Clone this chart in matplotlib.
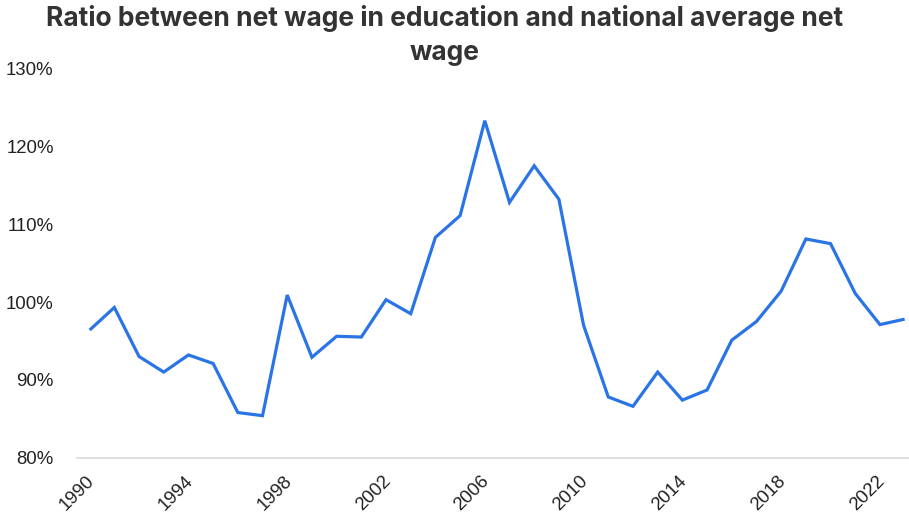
import matplotlib
matplotlib.use("Agg")
import matplotlib.pyplot as plt
import matplotlib.transforms as mtransforms
from matplotlib.ticker import FuncFormatter

years = list(range(1990, 2024))
ratio = [96.4, 99.3, 93.0, 91.0, 93.2, 92.1, 85.8, 85.4, 100.9, 92.9,
         95.6, 95.5, 100.3, 98.5, 108.3, 111.1, 123.3, 112.8, 117.5, 113.2,
         97.0, 87.8, 86.6, 91.0, 87.4, 88.7, 95.1, 97.5, 101.4, 108.1,
         107.5, 101.1, 97.1, 97.8]
tick_years = list(range(1990, 2023, 4))
y_ticks = [80, 90, 100, 110, 120, 130]
title = "Ratio between net wage in education and national average net\nwage"

W, H = 909, 516
fig = plt.figure(figsize=(W / 100, H / 100), dpi=100)
left_px, right_px = 77.3, 917.0
bottom_px, top_px = 457.7, 68.5
ax = fig.add_axes([left_px / W, (H - bottom_px) / H,
                   (right_px - left_px) / W, (bottom_px - top_px) / H])

ax.plot(years, ratio, color="#2B74E6", linewidth=2.3,
        solid_joinstyle="miter", solid_capstyle="butt", clip_on=False)

ax.set_xlim(years[0] - 0.5, years[-1] + 0.5)
ax.set_ylim(80, 130)
ax.set_yticks(y_ticks)
ax.yaxis.set_major_formatter(FuncFormatter(lambda v, p: f"{v:.0f}%"))
ax.set_xticks(tick_years)
ax.set_xticklabels([str(y) for y in tick_years], rotation=45,
                   ha="right", va="center", rotation_mode="anchor")

for s in ("top", "right", "left"):
    ax.spines[s].set_visible(False)
ax.spines["bottom"].set_color("#d9d9d9")
ax.spines["bottom"].set_linewidth(1.2)
ax.tick_params(axis="both", length=0, labelsize=13.4, labelcolor="#222222")
ax.tick_params(axis="y", pad=17)
ax.tick_params(axis="x", pad=15)
shift = mtransforms.ScaledTranslation(2 / 100, 0, fig.dpi_scale_trans)
for lbl in ax.get_xticklabels():
    lbl.set_family("Liberation Sans")
    lbl.set_transform(lbl.get_transform() + shift)
for lbl in ax.get_yticklabels():
    lbl.set_family("Liberation Sans")

fig.text(445 / W, 1 - 5 / H, title, ha="center", va="top",
         fontsize=19, fontweight="bold", family="Inter", color="#333333",
         linespacing=1.42)

fig.savefig("out.png", dpi=100)
